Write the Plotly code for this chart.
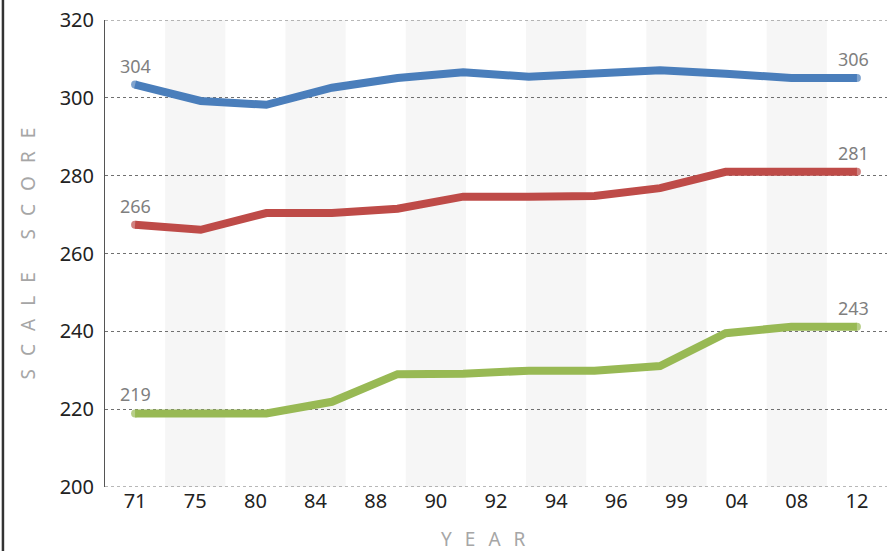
import plotly.graph_objects as go

# ---- data ----
year_labels = ["71", "75", "80", "84", "88", "90", "92", "94", "96", "99", "04", "08", "12"]
age17 = [303.4, 299.2, 298.2, 302.6, 305.1, 306.6, 305.4, 306.2, 307.1, 306.2, 305.1, 305.1]
age13 = [267.4, 266.1, 270.4, 270.4, 271.5, 274.6, 274.6, 274.8, 276.8, 281.0, 281.0, 281.0]
age9 = [218.9, 218.9, 218.9, 221.9, 229.0, 229.1, 229.9, 229.9, 231.1, 239.5, 241.2, 241.2]
start_labels = ["304", "266", "219"]
end_labels = ["306", "281", "243"]
y_ticks = [200, 220, 240, 260, 280, 300, 320]

colors = ["#4a7ebb", "#be4b48", "#98b954"]
series = [age17, age13, age9]

FONT = "Noto Sans, DejaVu Sans, sans-serif"

n = len(age17)
xs = list(range(n))
half = 0.5 * (n - 1) / (len(year_labels) - 1)

fig = go.Figure()

# invisible trace to establish the category axis
fig.add_trace(go.Scatter(x=year_labels, y=[None] * len(year_labels), xaxis="x", yaxis="y",
                         mode="lines", showlegend=False, hoverinfo="skip"))

for vals, col in zip(series, colors):
    sizes = [8] + [0] * (len(vals) - 2) + [8]
    fig.add_trace(go.Scatter(
        x=xs, y=vals, xaxis="x2", yaxis="y",
        mode="lines+markers",
        line=dict(color=col, width=8),
        marker=dict(color=col, size=sizes, line=dict(width=0)),
        showlegend=False, hoverinfo="skip",
    ))

# end labels
for vals, sl, el in zip(series, start_labels, end_labels):
    fig.add_annotation(x=xs[0], y=vals[0], xref="x2", yref="y", text=sl, showarrow=False,
                       yshift=19, font=dict(family=FONT, size=18, color="#7f7f7f"))
    fig.add_annotation(x=xs[-1], y=vals[-1], xref="x2", yref="y", text=el, showarrow=False,
                       yshift=19, xshift=-3, font=dict(family=FONT, size=18, color="#7f7f7f"))

# alternating background bands
shapes = []
for i in range(1, len(year_labels), 2):
    shapes.append(dict(type="rect", xref="x", yref="y", x0=i - 0.5, x1=i + 0.5,
                       y0=y_ticks[0], y1=y_ticks[-1], fillcolor="#f6f6f6",
                       line=dict(width=0), layer="below"))
# dotted lines at the top and bottom of the value range
for yv in (y_ticks[0], y_ticks[-1]):
    shapes.append(dict(type="line", xref="paper", yref="y", x0=0, x1=1, y0=yv, y1=yv,
                       line=dict(color="#707070", width=1, dash="dot"), layer="above"))
# left frame line of the image
shapes.append(dict(type="line", xref="paper", yref="paper", x0=-0.1305, x1=-0.1305,
                   y0=-0.2, y1=1.1, line=dict(color="#333333", width=2.5)))

fig.update_layout(
    width=892, height=551,
    margin=dict(l=105, r=5, t=20, b=64),
    paper_bgcolor="white", plot_bgcolor="white",
    shapes=shapes,
    xaxis=dict(type="category", range=[-0.5, len(year_labels) - 0.5],
               showgrid=False, zeroline=False, showline=False, ticks="",
               tickfont=dict(family=FONT, size=20, color="#222222")),
    xaxis2=dict(overlaying="x", range=[-half, n - 1 + half], visible=False),
    yaxis=dict(range=[y_ticks[0], y_ticks[-1]], tickvals=y_ticks,
               showgrid=True, gridcolor="#707070", griddash="dot", gridwidth=1,
               zeroline=False, showline=True, linecolor="#555555", linewidth=1,
               ticks="", ticklabelstandoff=6,
               tickfont=dict(family=FONT, size=20, color="#222222")),
)

gap = "\u00a0\u00a0\u2009"
wgap = "\u00a0" * 6 + "\u2009"
fig.add_annotation(xref="paper", yref="paper", x=(483 - 105) / 782, y=(486.7 - 539) / 466.7,
                   text=gap.join("YEAR"), showarrow=False, yanchor="middle",
                   font=dict(family=FONT, size=19, color="#a6a6a6"))
fig.add_annotation(xref="paper", yref="paper", x=(27 - 105) / 782, y=0.5,
                   text=gap.join("SCALE") + wgap + gap.join("SCORE"),
                   showarrow=False, textangle=-90, xanchor="center",
                   font=dict(family=FONT, size=19, color="#a6a6a6"))

fig.write_html("out.html", config={"displayModeBar": False},
               post_script="document.body.style.margin='0px';")
